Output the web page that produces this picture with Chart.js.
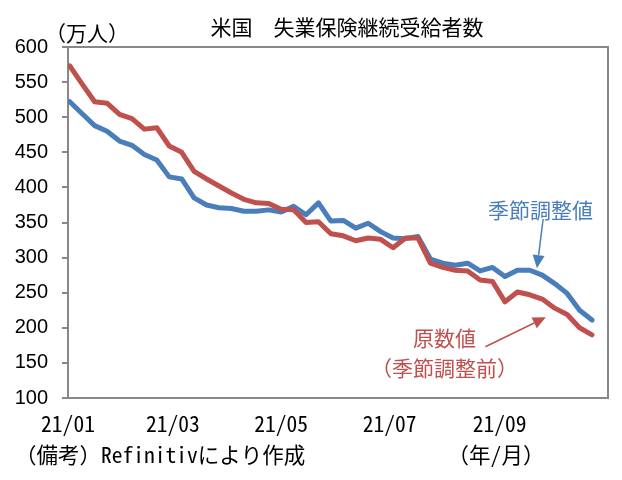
<!DOCTYPE html>
<html>
<head>
<meta charset="utf-8">
<script src="https://cdn.jsdelivr.net/npm/chart.js@4.4.0/dist/chart.umd.min.js"></script>
<style>
html, body { margin: 0; padding: 0; background: #fff; }
</style>
</head>
<body>
<canvas id="chart" width="622" height="480"></canvas>
<script>
'use strict';

// Week-ending dates (continuing claims, weekly).
const weekEnding = [
    '2021-01-02', '2021-01-09', '2021-01-16', '2021-01-23', '2021-01-30',
    '2021-02-06', '2021-02-13', '2021-02-20', '2021-02-27',
    '2021-03-06', '2021-03-13', '2021-03-20', '2021-03-27',
    '2021-04-03', '2021-04-10', '2021-04-17', '2021-04-24',
    '2021-05-01', '2021-05-08', '2021-05-15', '2021-05-22', '2021-05-29',
    '2021-06-05', '2021-06-12', '2021-06-19', '2021-06-26',
    '2021-07-03', '2021-07-10', '2021-07-17', '2021-07-24', '2021-07-31',
    '2021-08-07', '2021-08-14', '2021-08-21', '2021-08-28',
    '2021-09-04', '2021-09-11', '2021-09-18', '2021-09-25',
    '2021-10-02', '2021-10-09', '2021-10-16', '2021-10-23',
];

// 季節調整値 (10k persons)
const seasonallyAdjusted = [
    522, 505, 488, 480, 466, 460, 447, 439, 415, 412,
    385, 375, 371, 370, 366, 366, 368, 365, 373, 361,
    378, 352, 353, 342, 349, 337, 328, 327, 330, 298,
    292, 289, 292, 281, 286, 273, 282, 282, 275, 263,
    249, 225, 211,
];

// 原数値 (季節調整前)
const notAdjusted = [
    573, 547, 522, 520, 504, 498, 483, 485, 459, 450,
    423, 412, 402, 392, 383, 378, 377, 369, 368, 350,
    351, 334, 331, 324, 328, 326, 314, 328, 328, 292,
    286, 282, 281, 268, 266, 237, 251, 247, 241, 228,
    219, 200, 190,
];

// Axis labels every two months.
const tickDates = ['2021-01-01', '2021-03-01', '2021-05-01', '2021-07-01', '2021-09-01'];
const tickLabels = ['21/01', '21/03', '21/05', '21/07', '21/09'];
const axisStart = '2021-01-01';
const axisEnd = '2021-11-01';

const BLUE = '#4a7ebb';
const RED = '#c0504d';
const AXIS = '#888888';
const JP = '"Noto Sans Mono CJK JP", "Noto Sans CJK JP", sans-serif';

const dayOf = (s) => (Date.parse(s) - Date.parse(axisStart)) / 86400000;
const toPoints = (values) => values.map((v, i) => ({x: dayOf(weekEnding[i]), y: v}));

const drawArrow = (ctx, x1, y1, x2, y2, color) => {
    const ang = Math.atan2(y2 - y1, x2 - x1);
    const len = 13;
    const half = 6;
    const bx = x2 - len * Math.cos(ang);
    const by = y2 - len * Math.sin(ang);
    ctx.strokeStyle = color;
    ctx.fillStyle = color;
    ctx.lineWidth = 1.5;
    ctx.beginPath();
    ctx.moveTo(x1, y1);
    ctx.lineTo(bx, by);
    ctx.stroke();
    ctx.beginPath();
    ctx.moveTo(x2, y2);
    ctx.lineTo(bx + half * Math.sin(ang), by - half * Math.cos(ang));
    ctx.lineTo(bx - half * Math.sin(ang), by + half * Math.cos(ang));
    ctx.closePath();
    ctx.fill();
};

// Frame, notes and annotations.
const decorations = {
    id: 'decorations',
    beforeDatasetsDraw(chart) {
        const {ctx, chartArea: a} = chart;
        ctx.save();
        ctx.strokeStyle = AXIS;
        ctx.lineWidth = 2;
        ctx.beginPath();
        ctx.moveTo(a.left, a.top);
        ctx.lineTo(a.right, a.top);
        ctx.lineTo(a.right, a.bottom);
        ctx.stroke();
        ctx.restore();
    },
    afterDraw(chart) {
        const {ctx} = chart;
        const xs = chart.scales.x;
        const ys = chart.scales.y;
        ctx.save();
        ctx.textBaseline = 'middle';
        ctx.textAlign = 'center';
        ctx.fillStyle = '#000';
        ctx.font = '21px ' + JP;
        ctx.fillText('米国　失業保険継続受給者数', 347, 27);
        ctx.fillText('（万人）', 87, 33);
        ctx.font = '21.5px ' + JP;
        ctx.textAlign = 'left';
        ctx.fillText('（備考）Refinitivにより作成', 15, 455);
        ctx.textAlign = 'center';
        ctx.fillText('（年/月）', 496, 455);

        // 季節調整値 label and arrow.
        ctx.font = '21px ' + JP;
        ctx.fillStyle = BLUE;
        ctx.fillText('季節調整値', xs.getPixelForValue(266), ys.getPixelForValue(368));
        drawArrow(ctx, xs.getPixelForValue(267.5), ys.getPixelForValue(355),
            xs.getPixelForValue(264), ys.getPixelForValue(285), BLUE);

        // 原数値 label and arrow.
        ctx.fillStyle = RED;
        ctx.fillText('原数値', xs.getPixelForValue(212), ys.getPixelForValue(185));
        ctx.fillText('（季節調整前）', xs.getPixelForValue(212), ys.getPixelForValue(143));
        drawArrow(ctx, xs.getPixelForValue(235), ys.getPixelForValue(173),
            xs.getPixelForValue(269), ys.getPixelForValue(215), RED);
        ctx.restore();
    },
};

new Chart(document.getElementById('chart'), {
    type: 'line',
    data: {
        datasets: [{
            label: '原数値',
            data: toPoints(notAdjusted),
            borderColor: RED,
            borderWidth: 5,
            pointRadius: 0,
            borderJoinStyle: 'round',
            borderCapStyle: 'round',
            tension: 0,
        }, {
            label: '季節調整値',
            data: toPoints(seasonallyAdjusted),
            borderColor: BLUE,
            borderWidth: 5,
            pointRadius: 0,
            borderJoinStyle: 'round',
            borderCapStyle: 'round',
            tension: 0,
        }],
    },
    options: {
        responsive: false,
        devicePixelRatio: 1,
        animation: false,
        layout: {padding: {top: 47, right: 14, left: 0, bottom: 0}},
        plugins: {
            legend: {display: false},
            tooltip: {enabled: false},
        },
        scales: {
            x: {
                type: 'linear',
                min: dayOf(axisStart),
                max: dayOf(axisEnd),
                afterFit: (scale) => { scale.height = 82; },
                afterBuildTicks: (scale) => {
                    scale.ticks = tickDates.map((d) => ({value: dayOf(d)}));
                },
                grid: {display: false, drawTicks: false},
                border: {display: true, color: AXIS, width: 2},
                ticks: {
                    autoSkip: false,
                    maxRotation: 0,
                    minRotation: 0,
                    padding: 13,
                    color: '#000',
                    font: {family: JP, size: 21.5},
                    callback: (value, index) => tickLabels[index],
                },
            },
            y: {
                min: 100,
                max: 600,
                afterFit: (scale) => { scale.width = 68; },
                grid: {
                    drawOnChartArea: false,
                    drawTicks: true,
                    tickLength: 6,
                    color: AXIS,
                    lineWidth: 2,
                },
                border: {display: true, color: AXIS, width: 2},
                ticks: {
                    stepSize: 50,
                    padding: 14,
                    color: '#000',
                    font: {family: '"Liberation Sans", Arial, sans-serif', size: 20},
                },
            },
        },
    },
    plugins: [decorations],
});
</script>
</body>
</html>
